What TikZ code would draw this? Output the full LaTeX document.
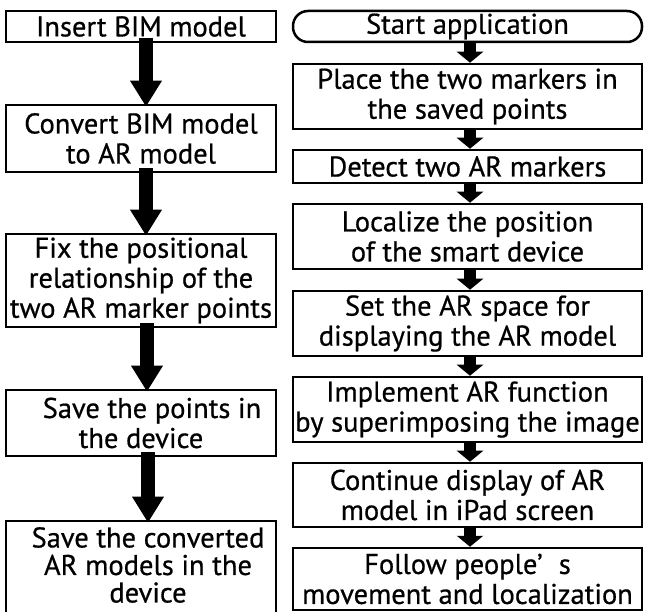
\documentclass[tikz,border=0pt]{standalone}
\usepackage{fontspec}
\setmainfont{PT Sans}[BoldFont={PT Sans}, BoldFeatures={FakeBold=0.6}]
\usetikzlibrary{arrows.meta}
\tikzset{
  box/.style={draw, line width=2.5pt, inner sep=0pt, align=center,
    font=\fontsize{28.5}{30}\selectfont\bfseries},
  txt/.style={inner sep=0pt, align=center, font=\fontsize{28.5}{27.5}\selectfont\bfseries},
  lbox/.style={box, minimum width=270pt},
  rbox/.style={box, minimum width=349pt},
  startbox/.style={rbox, rounded corners=15pt},
  bigarrow/.style={line width=14pt, -{Triangle[width=30pt,length=26pt]}},
  smallarrow/.style={line width=12pt, -{Triangle[width=26pt,length=11pt]}},
}
\begin{document}
\begin{tikzpicture}[x=1pt,y=-1pt]
\useasboundingbox (0,0) rectangle (646,612);
% left column
\node[lbox, minimum height=31pt] (L1) at (141,26.5) {Insert BIM model};
\node[lbox, minimum height=67pt] (L2) at (141,138.5) {Convert BIM model\\to AR model};
\node[lbox, minimum height=93pt] (L3) at (141,280.5) {Fix the positional\\relationship of the\\two AR marker points};
\node[lbox, minimum height=66pt] (L4) at (141,423) {\hspace*{22pt}Save the points in\\the device};
\node[lbox, minimum height=100pt] (L5) at (141,571) {};
\node[txt] (L5t) at (148,565) {Save the converted\\AR models in the\\device};
% right column
\node[startbox, minimum height=31pt] (R1) at (467.5,26.5) {Start application};
\node[rbox, minimum height=65pt] (R2) at (467.5,96.5) {Place the two markers in\\the saved points};
\node[rbox, minimum height=33pt] (R3) at (467.5,166.5) {Detect two AR markers};
\node[rbox, minimum height=65pt] (R4) at (467.5,236.5) {Localize the position\\of the smart device};
\node[rbox, minimum height=65pt] (R5) at (467.5,323.5) {Set the AR space for\\displaying the AR model};
\node[rbox, minimum height=65pt] (R6) at (467.5,409.5) {Implement AR function\\by superimposing the image};
\node[rbox, minimum height=64pt] (R7) at (467.5,495) {Continue display of AR\\model in iPad screen};
\node[rbox, minimum height=62pt] (R8) at (467.5,579) {Follow people’ \hspace{0.3em}s\\movement and localization};
% left arrows
\draw[bigarrow] ([xshift=5pt,yshift=5pt]L1.south) -- ([xshift=5pt,yshift=-3pt]L2.north);
\draw[bigarrow] ([xshift=5pt,yshift=5pt]L2.south) -- ([xshift=5pt,yshift=-3pt]L3.north);
\draw[bigarrow] ([xshift=6pt,yshift=5pt]L3.south) -- ([xshift=6pt,yshift=-3pt]L4.north);
\draw[bigarrow] ([xshift=7pt,yshift=5pt]L4.south) -- ([xshift=7pt,yshift=-3pt]L5.north);
% right arrows
\draw[smallarrow] ([xshift=2.5pt]R1.south) -- ([xshift=2.5pt]R2.north);
\draw[smallarrow] ([xshift=2.5pt]R2.south) -- ([xshift=2.5pt]R3.north);
\draw[smallarrow] ([xshift=2.5pt]R3.south) -- ([xshift=2.5pt]R4.north);
\draw[smallarrow] ([xshift=2.5pt]R4.south) -- ([xshift=2.5pt]R5.north);
\draw[smallarrow] ([xshift=2.5pt]R5.south) -- ([xshift=2.5pt]R6.north);
\draw[smallarrow] ([xshift=2.5pt]R6.south) -- ([xshift=2.5pt]R7.north);
\draw[smallarrow] ([xshift=2.5pt]R7.south) -- ([xshift=2.5pt]R8.north);
\end{tikzpicture}
\end{document}
